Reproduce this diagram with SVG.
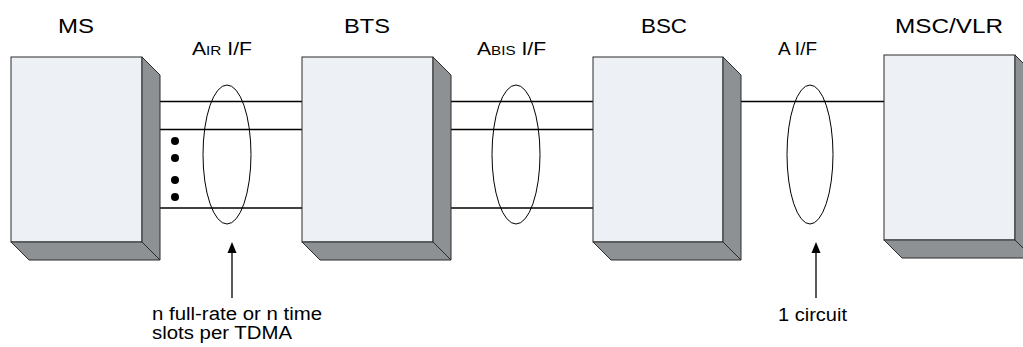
<svg xmlns="http://www.w3.org/2000/svg" width="1023" height="347" viewBox="0 0 1023 347">
<style>
.front{fill:#EDF0F5;stroke:#2b2b2b;stroke-width:1}
.shade{fill:#8E9194;stroke:#2b2b2b;stroke-width:1;stroke-linejoin:miter}
.title{font-family:"Liberation Sans",Arial,sans-serif;font-size:21px;fill:#000}
.ifl{font-family:"Liberation Sans",Arial,sans-serif;font-size:18px;fill:#000}
.sm{font-size:13px}
.note{font-family:"Liberation Sans",Arial,sans-serif;font-size:18px;fill:#000}
.link{stroke:#000;stroke-width:1.3;fill:none}
.ell{stroke:#000;stroke-width:1;fill:none}
.arr{stroke:#000;stroke-width:1.3}
</style>
<rect width="1023" height="347" fill="#fff"/>
<g id="connectors">
<line class="link" x1="160" y1="101.5" x2="302" y2="101.5"/>
<line class="link" x1="160" y1="129.5" x2="302" y2="129.5"/>
<line class="link" x1="160" y1="208" x2="302" y2="208"/>
<line class="link" x1="451" y1="101.5" x2="593" y2="101.5"/>
<line class="link" x1="451" y1="129.5" x2="593" y2="129.5"/>
<line class="link" x1="451" y1="208" x2="593" y2="208"/>
<line class="link" x1="741" y1="101.5" x2="884" y2="101.5"/>
<circle cx="175" cy="141" r="4" fill="#000"/>
<circle cx="175" cy="158" r="4" fill="#000"/>
<circle cx="175" cy="180" r="4" fill="#000"/>
<circle cx="175" cy="197" r="4" fill="#000"/>
<ellipse class="ell" cx="227" cy="154.5" rx="24" ry="69.5"/>
<ellipse class="ell" cx="516" cy="154.5" rx="24" ry="69.5"/>
<ellipse class="ell" cx="810" cy="154.5" rx="23" ry="69.5"/>
<line class="arr" x1="232" y1="298" x2="232" y2="250"/>
<polygon points="232,242 227.5,253 236.5,253" fill="#000"/>
<line class="arr" x1="816" y1="298" x2="816" y2="250"/>
<polygon points="816,242 811.5,253 820.5,253" fill="#000"/>
</g>
<g id="ms">
<rect class="front" x="11" y="57" width="131" height="185"/>
<polygon class="shade" points="142,57 160,75 160,260 142,242"/>
<polygon class="shade" points="11,242 142,242 160,260 29,260"/>
<text class="title" x="58" y="33" textLength="36" lengthAdjust="spacingAndGlyphs">MS</text>
</g>
<g id="bts">
<rect class="front" x="302" y="57" width="131" height="185"/>
<polygon class="shade" points="433,57 451,75 451,260 433,242"/>
<polygon class="shade" points="302,242 433,242 451,260 320,260"/>
<text class="title" x="344" y="33" textLength="46" lengthAdjust="spacingAndGlyphs">BTS</text>
</g>
<g id="bsc">
<rect class="front" x="593" y="57" width="130" height="185"/>
<polygon class="shade" points="723,57 741,75 741,260 723,242"/>
<polygon class="shade" points="593,242 723,242 741,260 611,260"/>
<text class="title" x="641" y="33" textLength="46" lengthAdjust="spacingAndGlyphs">BSC</text>
</g>
<g id="msc">
<rect class="front" x="884" y="55" width="131" height="185"/>
<polygon class="shade" points="1015,55 1033,73 1033,258 1015,240"/>
<polygon class="shade" points="884,240 1015,240 1033,258 902,258"/>
<text class="title" x="895" y="33" textLength="108" lengthAdjust="spacingAndGlyphs">MSC/VLR</text>
</g>
<g id="labels">
<text class="ifl" x="192" y="55" textLength="60" lengthAdjust="spacingAndGlyphs">A<tspan class="sm">IR</tspan> I/F</text>
<text class="ifl" x="477" y="55" textLength="69" lengthAdjust="spacingAndGlyphs">A<tspan class="sm">BIS</tspan> I/F</text>
<text class="ifl" x="778" y="55" textLength="39" lengthAdjust="spacingAndGlyphs">A I/F</text>
<text class="note" x="152" y="320" textLength="170" lengthAdjust="spacingAndGlyphs">n full-rate or n time</text>
<text class="note" x="152" y="339" textLength="140" lengthAdjust="spacingAndGlyphs">slots per TDMA</text>
<text class="note" x="778" y="321" textLength="69" lengthAdjust="spacingAndGlyphs">1 circuit</text>
</g>
</svg>
